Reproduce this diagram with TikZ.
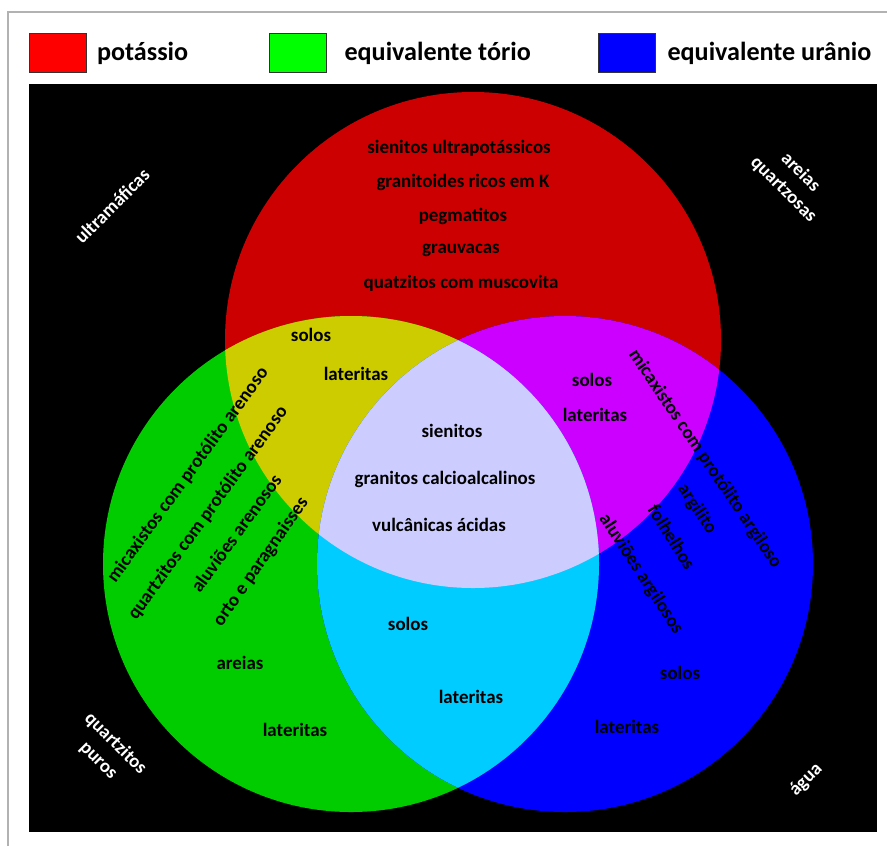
\documentclass[tikz,border=0pt]{standalone}
\usepackage{fontspec}
\setmainfont{Carlito}
\usetikzlibrary{positioning}
\definecolor{kred}{RGB}{204,0,0}
\definecolor{thgreen}{RGB}{0,204,0}
\definecolor{ublue}{RGB}{0,0,255}
\definecolor{kth}{RGB}{204,204,0}
\definecolor{ku}{RGB}{204,0,255}
\definecolor{thu}{RGB}{0,204,255}
\definecolor{kthu}{RGB}{204,204,255}
\tikzstyle{legbox}=[draw=black!80, minimum width=42.75pt, minimum height=29.25pt, inner sep=0pt]
\tikzstyle{legtxt}=[inner sep=0pt, font=\fontsize{19.6}{24}\selectfont\bfseries]
\tikzstyle{lbl}=[inner sep=0pt, font=\fontsize{14.2}{18}\selectfont\bfseries]
\tikzstyle{side}=[lbl, text=white, align=center]
\newcommand\rr{248}

\begin{document}
\begin{tikzpicture}[x=0.75pt,y=-0.75pt]
\useasboundingbox (0,0) rectangle (887,846);
\draw[gray!60, line width=1pt] (8,846) -- (8,12) -- (887,12);
% legend
\node[legbox, fill=red] (kbox) at (58,52.5) {};
\node[legtxt, right=7.5pt of kbox, yshift=-1pt] (ktxt) {potássio};
\node[legbox, fill=green] (thbox) at (297.5,52.5) {};
\node[legtxt, right=13.5pt of thbox, yshift=-1pt] (thtxt) {equivalente tório};
\node[legbox, fill=ublue] (ubox) at (626.5,52.5) {};
\node[legtxt, right=9pt of ubox, yshift=-1pt] (utxt) {equivalente urânio};
% venn
\fill[black] (29,84) rectangle (877,832);
\coordinate (K) at (473,340);
\coordinate (Th) at (351,564);
\coordinate (U) at (565,564);
\fill[kred] (K) circle (\rr);
\fill[thgreen] (Th) circle (\rr);
\fill[ublue] (U) circle (\rr);
\begin{scope}
\clip (K) circle (\rr);
\fill[kth] (Th) circle (\rr);
\fill[ku] (U) circle (\rr);
\end{scope}
\begin{scope}
\clip (Th) circle (\rr);
\fill[thu] (U) circle (\rr);
\clip (K) circle (\rr);
\fill[kthu] (U) circle (\rr);
\end{scope}
% potassio
\node[lbl] (k1) at (459,148) {sienitos ultrapotássicos};
\node[lbl] (k2) at (463,182) {granitoides ricos em K};
\node[lbl] (k3) at (463,216) {pegmatitos};
\node[lbl] (k4) at (461,250) {grauvacas};
\node[lbl] (k5) at (461,283) {quatzitos com muscovita};
\node[lbl] (kth1) at (311,335) {solos};
\node[lbl] (kth2) at (356,374) {lateritas};
\node[lbl] (ku1) at (592,380) {solos};
\node[lbl] (ku2) at (595,415) {lateritas};
\node[lbl] (c1) at (452,431) {sienitos};
\node[lbl] (c2) at (445,479) {granitos calcioalcalinos};
\node[lbl] (c3) at (439,525) {vulcânicas ácidas};
\node[lbl] (thu1) at (408,624) {solos};
\node[lbl] (thu2) at (471,697) {lateritas};
\node[lbl] (th1) at (240,663) {areias};
\node[lbl] (th2) at (295,730) {lateritas};
\node[lbl] (u1) at (680,673) {solos};
\node[lbl] (u2) at (627,727) {lateritas};
% rotated
\node[lbl, rotate=54] (th3) at (188,475) {micaxistos com protólito arenoso};
\node[lbl, rotate=54] (th4) at (208,513) {quartzitos com protólito arenoso};
\node[lbl, rotate=54] (th5) at (236,533) {aluviões arenosos};
\node[lbl, rotate=55] (th6) at (261,562) {orto e paragnaisses};
\node[lbl, rotate=-56] (u3) at (705,459) {micaxistos com protólito argiloso};
\node[lbl, rotate=-56] (u4) at (697,509) {argilito};
\node[lbl, rotate=-58] (u5) at (672,537) {folhelhos};
\node[lbl, rotate=-57] (u6) at (641,574) {aluviões argilosos};
% outside
\node[side, rotate=45] (o1) at (112,206) {ultramáficas};
\node[side, rotate=-45] (o2) at (792,181) {areias\\quartzosas};
\node[side, rotate=-45] (o3) at (107,752) {quartzitos\\puros};
\node[side, rotate=45] (o4) at (806,780) {água};
\end{tikzpicture}
\end{document}
